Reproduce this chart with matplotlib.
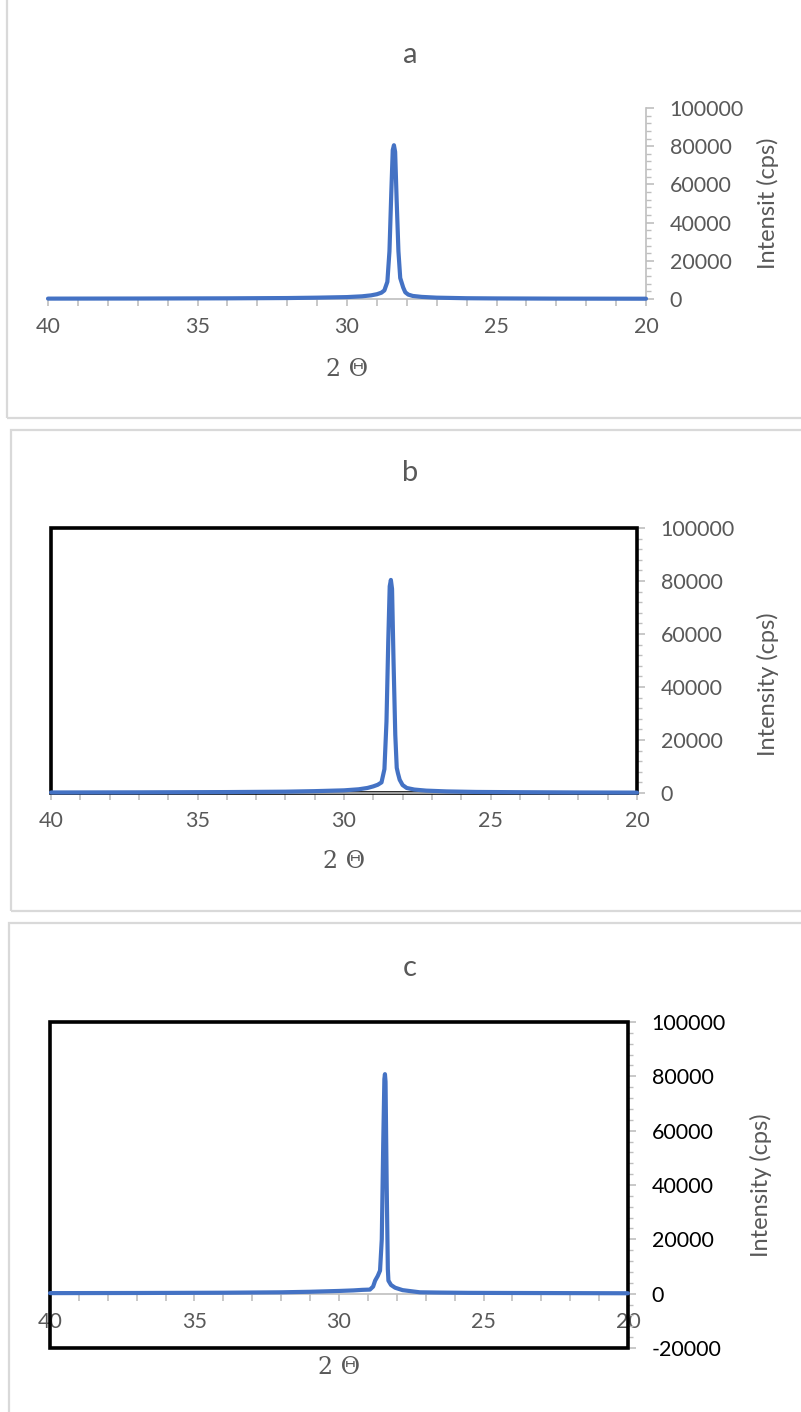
import matplotlib
matplotlib.use("Agg")
import matplotlib.pyplot as plt
from matplotlib.patches import Rectangle
from matplotlib.ticker import MultipleLocator

plt.rcParams["axes.unicode_minus"] = False

# ---------------- data ----------------
a_theta = [40, 37, 34, 32, 31, 30, 29.5, 29.2, 29.0, 28.85, 28.75, 28.65, 28.58,
           28.52, 28.47, 28.43, 28.39, 28.34, 28.28, 28.22, 28.18, 28.12, 28.05,
           27.95, 27.8, 27.5, 27, 26, 25, 23, 20]
a_int = [200, 250, 350, 500, 700, 1000, 1400, 1900, 2500, 3300, 4500, 9000, 25000,
         55000, 78000, 80500, 77000, 52000, 25000, 11000, 9000, 6000, 3500,
         2300, 1600, 1100, 700, 400, 300, 200, 150]

b_theta = [40, 37, 34, 32, 31, 30, 29.5, 29.2, 29.0, 28.85, 28.72, 28.62, 28.55,
           28.49, 28.44, 28.40, 28.36, 28.31, 28.25, 28.2, 28.16, 28.1, 28.0,
           27.86, 27.6, 27.2, 26.5, 25.5, 24, 22, 20]
b_int = [200, 250, 350, 500, 700, 1000, 1400, 1900, 2500, 3100, 4000, 9000, 27000,
         57000, 78000, 80400, 77000, 50000, 22000, 9500, 7500, 5000, 3000,
         1900, 1300, 900, 600, 400, 300, 200, 150]

c_theta = [40, 37, 34, 32, 31, 30, 29.5, 29.2, 28.93, 28.82, 28.75, 28.66, 28.58,
           28.52, 28.47, 28.43, 28.41, 28.39, 28.35, 28.31, 28.29, 28.2, 28.06,
           27.8, 27.2, 26.5, 25.5, 24, 22, 20]
c_int = [200, 250, 350, 500, 700, 1000, 1200, 1400, 1500, 2600, 4800, 6500, 8500,
         20000, 55000, 79000, 80800, 78000, 40000, 9000, 4800, 3200, 2200,
         1300, 500, 400, 300, 250, 200, 150]

panel_titles = ["a", "b", "c"]
ylabels = ["Intensit (cps)", "Intensity (cps)", "Intensity (cps)"]
xlabel = "2 \u0398"
x_ticks = [40, 35, 30, 25, 20]

W, H = 801, 1412
fig = plt.figure(figsize=(W / 100, H / 100), dpi=100)
fig.patch.set_facecolor("white")

FONT = ["Lato", "DejaVu Sans"]
GRAY = "#595959"
AXGRAY = "#BFBFBF"
BLUE = "#4472C4"


def fx(px):
    return px / W


def fy(py):
    return 1 - py / H


# outer chart-area boxes (pixels: left, top, right, bottom)
for (l, t, r, b) in [(7, -5, 820, 418), (11, 430, 820, 911), (9, 923, 820, 1420)]:
    fig.patches.append(Rectangle((fx(l), fy(b)), fx(r - l), (b - t) / H,
                                 transform=fig.transFigure, fill=False,
                                 edgecolor="#D9D9D9", lw=1.6))

# axes plot areas in pixels: left, right, top, bottom
areas = [(48, 646, 108, 299), (51, 637, 528, 793), (50, 628, 1022, 1348)]
ylims = [(0, 100000), (0, 100000), (-20000, 100000)]
datas = [(a_theta, a_int), (b_theta, b_int), (c_theta, c_int)]
title_y = [55, 473, 968]
ylabel_y = [203.5, 684, 1185]
xlabel_y = [370, 862, 1368]
ylab_x = [768, 768, 761]

for i in range(3):
    l, r, t, b = areas[i]
    ax = fig.add_axes([fx(l), fy(b), (r - l) / W, (b - t) / H])
    ax.set_facecolor("none")
    th, it = datas[i]
    ax.plot(th, it, color=BLUE, lw=3.0, solid_capstyle="round",
            solid_joinstyle="round", zorder=5, clip_on=False)
    ax.set_xlim(40, 20)
    ax.set_ylim(*ylims[i])

    for s in ["top", "left"]:
        ax.spines[s].set_visible(False)
    ax.spines["bottom"].set_color(AXGRAY)
    ax.spines["right"].set_color(AXGRAY)
    ax.spines["bottom"].set_linewidth(1.2)
    ax.spines["right"].set_linewidth(1.2)
    ax.spines["bottom"].set_position(("data", 0))
    ax.spines["bottom"].set_zorder(4)

    ax.yaxis.tick_right()
    ax.yaxis.set_label_position("right")
    ax.set_xticks(x_ticks)
    ax.xaxis.set_minor_locator(MultipleLocator(1))
    ax.yaxis.set_major_locator(MultipleLocator(20000))
    ax.yaxis.set_minor_locator(MultipleLocator(4000))

    ylab_color = "black" if i == 2 else GRAY
    ax.tick_params(axis="x", which="both", direction="out", length=5, width=1.2,
                   color=AXGRAY, labelcolor=GRAY, labelsize=15.5, pad=8)
    ax.tick_params(axis="y", which="major", direction="out", length=6, width=1.2,
                   color=AXGRAY, labelcolor=ylab_color, labelsize=15.5, pad=11)
    ax.tick_params(axis="y", which="minor", direction="out", length=3.5, width=1.0,
                   color=AXGRAY)
    for lab in ax.get_xticklabels() + ax.get_yticklabels():
        lab.set_family(FONT)

    if i > 0:
        ax.add_patch(Rectangle((0, 0), 1, 1, transform=ax.transAxes, fill=False,
                               edgecolor="black", lw=2.6, zorder=3, clip_on=False))

    fig.text(fx(ylab_x[i]), fy(ylabel_y[i]), ylabels[i], rotation=90,
             ha="center", va="center", fontsize=17, color=GRAY, family=FONT)
    fig.text(fx((l + r) / 2), fy(xlabel_y[i]), xlabel, ha="center", va="center",
             fontsize=17, color=GRAY, family=["DejaVu Serif"])
    fig.text(fx(410), fy(title_y[i]), panel_titles[i], ha="center", va="center",
             fontsize=21, color=GRAY, family=FONT)

fig.savefig("out.png", dpi=100, facecolor="white")
